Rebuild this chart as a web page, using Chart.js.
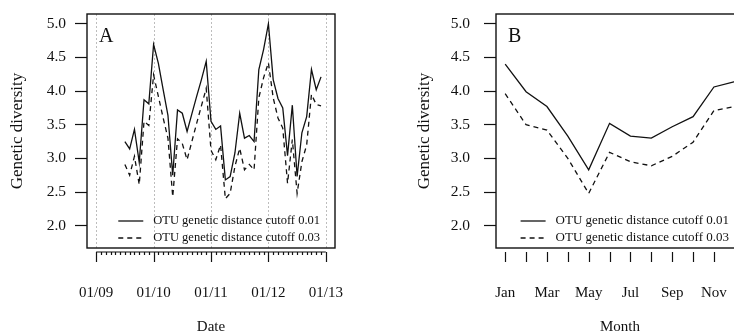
<!DOCTYPE html>
<html>
<head>
<meta charset="utf-8">
<script src="https://cdn.jsdelivr.net/npm/chart.js@4.4.1/dist/chart.umd.min.js"></script>
<style>
  html, body { margin: 0; padding: 0; background: #fff; overflow: hidden; }
  #wrap { position: relative; width: 734px; height: 332px; overflow: hidden; }
  canvas { position: absolute; top: 0; }
</style>
</head>
<body>
<div id="wrap">
  <canvas id="panelA" width="367" height="332" style="left:0"></canvas>
  <canvas id="panelB" width="390" height="332" style="left:367px"></canvas>
</div>
<script>
// Sampling months, counted from January 2009 (0 = 01/09)
const sampleMonths = [6, 7, 8, 9, 10, 11, 12, 13, 14, 15, 16, 17, 18, 19, 20, 21, 22, 23,
  24, 25, 26, 27, 28, 29, 30, 31, 32, 33, 34, 35, 36, 37, 38, 39, 40, 41, 42, 43, 44, 45, 46, 47];
const diversityCut001 = [3.25, 3.14, 3.43, 2.94, 3.87, 3.81, 4.69, 4.41, 4.02, 3.64, 2.75, 3.72,
  3.67, 3.40, 3.66, 3.92, 4.17, 4.44, 3.55, 3.43, 3.48, 2.68, 2.73, 3.08, 3.67, 3.30, 3.34, 3.25,
  4.32, 4.62, 5.00, 4.17, 3.89, 3.75, 3.04, 3.79, 2.73, 3.38, 3.62, 4.32, 4.02, 4.21];
const diversityCut003 = [2.91, 2.75, 3.03, 2.61, 3.55, 3.49, 4.24, 3.92, 3.60, 3.30, 2.43, 3.29,
  3.22, 2.98, 3.25, 3.52, 3.78, 4.04, 3.12, 2.98, 3.20, 2.40, 2.48, 2.88, 3.15, 2.83, 2.91, 2.83,
  3.90, 4.20, 4.42, 3.90, 3.60, 3.45, 2.63, 3.28, 2.48, 2.95, 3.20, 3.95, 3.80, 3.78];
const yearTicks = [0, 12, 24, 36, 48];
const yearLabels = ['01/09', '01/10', '01/11', '01/12', '01/13'];

// Monthly means
const monthNumbers = [1, 2, 3, 4, 5, 6, 7, 8, 9, 10, 11, 12];
const monthNames = ['Jan', 'Feb', 'Mar', 'Apr', 'May', 'Jun', 'Jul', 'Aug', 'Sep', 'Oct', 'Nov', 'Dec'];
const monthlyCut001 = [4.40, 3.99, 3.77, 3.33, 2.83, 3.52, 3.33, 3.30, 3.47, 3.62, 4.06, 4.14];
const monthlyCut003 = [3.96, 3.50, 3.42, 3.00, 2.48, 3.09, 2.95, 2.89, 3.03, 3.24, 3.71, 3.77];

const diversityTicks = [2.0, 2.5, 3.0, 3.5, 4.0, 4.5, 5.0];
const seriesLabels = ['OTU genetic distance cutoff 0.01', 'OTU genetic distance cutoff 0.03'];

const SERIF = '"Liberation Serif", "Times New Roman", serif';
const INK = '#111';

function makeDatasets(xs, a, b) {
  return [
    { label: seriesLabels[0], data: xs.map((x, i) => ({ x, y: a[i] })),
      borderColor: INK, borderWidth: 1.3, pointRadius: 0, tension: 0, fill: false },
    { label: seriesLabels[1], data: xs.map((x, i) => ({ x, y: b[i] })),
      borderColor: INK, borderWidth: 1.3, borderDash: [5, 4], pointRadius: 0, tension: 0, fill: false }
  ];
}

// Box, panel letter, R-style x axis and an in-plot legend
function framePlugin(cfg) {
  return {
    id: 'frame' + cfg.letter,
    beforeDatasetsDraw(chart) {
      const { ctx, chartArea: ca, scales } = chart;
      if (cfg.yearGrid) {
        ctx.save();
        ctx.strokeStyle = '#bdbdbd';
        ctx.lineWidth = 1;
        ctx.setLineDash([2, 2]);
        cfg.yearGrid.forEach(v => {
          const x = Math.round(scales.x.getPixelForValue(v)) + 0.5;
          ctx.beginPath(); ctx.moveTo(x, ca.top); ctx.lineTo(x, ca.bottom); ctx.stroke();
        });
        ctx.restore();
      }
    },
    afterDraw(chart) {
      const { ctx, chartArea: ca, scales } = chart;
      ctx.save();
      ctx.strokeStyle = INK;
      ctx.lineWidth = 1.4;
      ctx.strokeRect(ca.left, ca.top, ca.right - ca.left, ca.bottom - ca.top);

      // axis tick marks below the box
      const y0 = ca.bottom + 4;
      ctx.lineWidth = 1.2;
      if (cfg.axisLine) {
        const xa = scales.x.getPixelForValue(cfg.axisLine[0]);
        const xb = scales.x.getPixelForValue(cfg.axisLine[1]);
        ctx.beginPath(); ctx.moveTo(xa, y0); ctx.lineTo(xb, y0); ctx.stroke();
      }
      cfg.tickMarks.forEach(t => {
        const x = Math.round(scales.x.getPixelForValue(t.v)) + 0.5;
        ctx.beginPath(); ctx.moveTo(x, y0); ctx.lineTo(x, y0 + t.len); ctx.stroke();
      });

      // panel letter
      ctx.fillStyle = INK;
      ctx.font = '20px ' + SERIF;
      ctx.textBaseline = 'alphabetic';
      ctx.textAlign = 'left';
      ctx.fillText(cfg.letter, ca.left + 12, ca.top + 28);

      // legend anchored at the bottom-right of the plot box
      ctx.font = cfg.legendFont + 'px ' + SERIF;
      ctx.textBaseline = 'middle';
      const rows = [ca.bottom - 27, ca.bottom - 10];
      chart.data.datasets.forEach((ds, i) => {
        const w = ctx.measureText(ds.label).width;
        const tx = ca.right - 15 - w;
        ctx.fillText(ds.label, tx, rows[i]);
        ctx.beginPath();
        ctx.setLineDash(ds.borderDash || []);
        ctx.lineWidth = 1.3;
        ctx.moveTo(tx - 35, rows[i]); ctx.lineTo(tx - 10, rows[i]);
        ctx.stroke();
        ctx.setLineDash([]);
      });
      ctx.restore();
    }
  };
}

function noOverhang(s) {
  s.paddingTop = 0; s.paddingBottom = 0; s.paddingLeft = 0; s.paddingRight = 0;
}

function baseOptions(p) {
  return {
    responsive: false,
    animation: false,
    devicePixelRatio: 1,
    layout: { padding: { top: 14, right: p.padRight, left: 0, bottom: 0 } },
    plugins: { legend: { display: false }, tooltip: { enabled: false } },
    scales: {
      x: {
        type: 'linear', min: p.xMin, max: p.xMax,
        afterBuildTicks: s => { s.ticks = p.xTickValues.map(v => ({ value: v })); },
        ticks: { callback: p.xLabel, font: { family: SERIF, size: 15 }, color: INK,
                 padding: 36, maxRotation: 0, autoSkip: false },
        grid: { display: false, drawTicks: false },
        border: { display: false },
        title: { display: true, text: p.xTitle, color: INK,
                 font: { family: SERIF, size: 15, lineHeight: 1 }, padding: { top: 0, bottom: -3 } },
        afterFit: s => { s.height = 84; noOverhang(s); }
      },
      y: {
        min: 1.669, max: 5.144,
        afterBuildTicks: s => { s.ticks = diversityTicks.map(v => ({ value: v })); },
        ticks: { callback: v => v.toFixed(1), font: { family: SERIF, size: 15.5 }, color: INK,
                 padding: p.yPad, autoSkip: false },
        grid: { drawOnChartArea: false, drawTicks: true, tickLength: 12, tickColor: INK, tickWidth: 1.2 },
        border: { display: false },
        title: { display: true, text: 'Genetic diversity', color: INK,
                 font: { family: SERIF, size: 17, lineHeight: 1 }, padding: { top: p.yTitlePad, bottom: 0 } },
        afterFit: s => { s.width = p.yWidth; noOverhang(s); }
      }
    }
  };
}

// Panel A: time series
const minorA = [];
for (let m = 0; m <= 48; m++) minorA.push({ v: m, len: yearTicks.includes(m) ? 10 : 3 });
new Chart(document.getElementById('panelA'), {
  type: 'line',
  data: { datasets: makeDatasets(sampleMonths, diversityCut001, diversityCut003) },
  options: baseOptions({
    padRight: 32, xMin: -1.92, xMax: 49.92, xTickValues: yearTicks,
    xLabel: v => yearLabels[yearTicks.indexOf(v)], xTitle: 'Date',
    yPad: 9, yTitlePad: 9, yWidth: 87
  }),
  plugins: [framePlugin({ letter: 'A', yearGrid: yearTicks, axisLine: [0, 48],
                          tickMarks: minorA, legendFont: 12.5 })]
});

// Panel B: monthly pattern
new Chart(document.getElementById('panelB'), {
  type: 'line',
  data: { datasets: makeDatasets(monthNumbers, monthlyCut001, monthlyCut003) },
  options: baseOptions({
    padRight: 13, xMin: 0.56, xMax: 12.44, xTickValues: monthNumbers,
    xLabel: v => (v % 2 === 1 ? monthNames[v - 1] : ''), xTitle: 'Month',
    yPad: 14, yTitlePad: 49.5, yWidth: 129
  }),
  plugins: [framePlugin({ letter: 'B', tickMarks: monthNumbers.map(v => ({ v, len: 10 })),
                          legendFont: 13 })]
});
</script>
</body>
</html>
